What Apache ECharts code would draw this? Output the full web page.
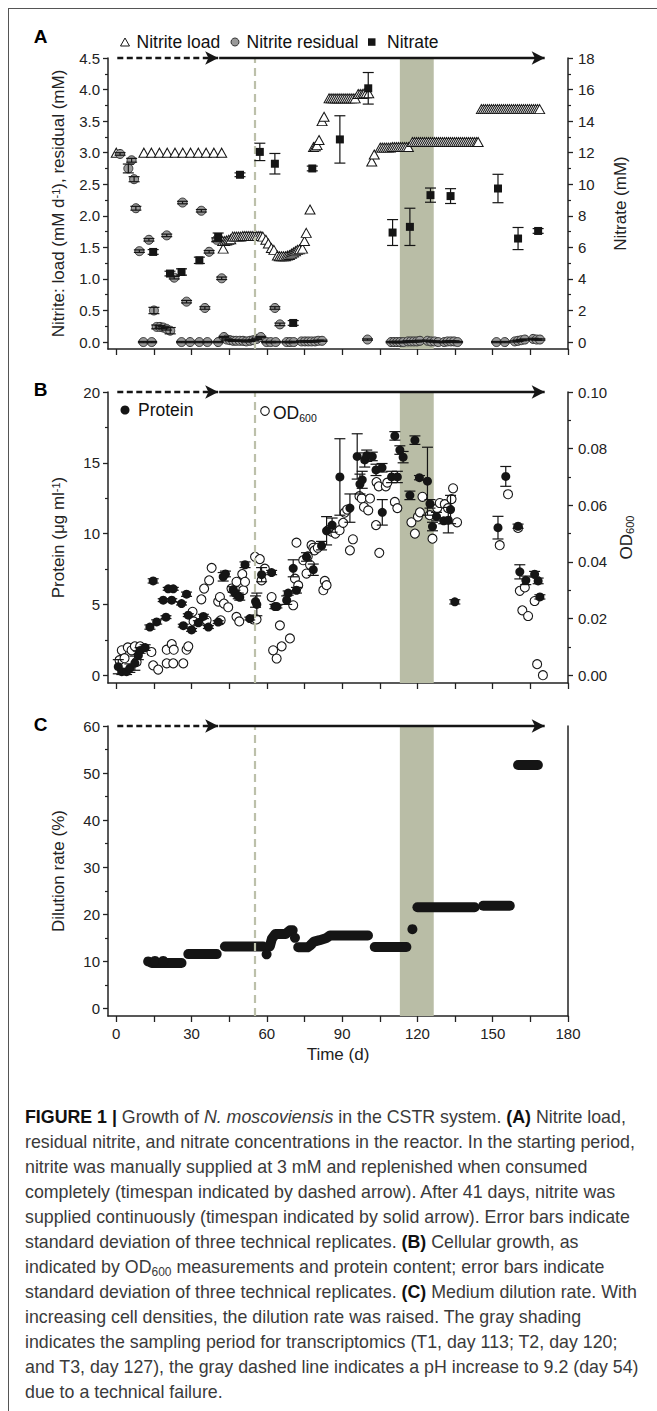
<!DOCTYPE html>
<html>
<head>
<meta charset="utf-8">
<script src="https://cdn.jsdelivr.net/npm/echarts@6/dist/echarts.min.js"></script>
<style>
html,body{margin:0;padding:0;background:#fff;}
#chart{position:absolute;left:0;top:0;width:657px;height:1411px;}
#frame{position:absolute;left:8px;top:8px;width:700px;height:1500px;border-left:1.5px solid #555;border-top:1.5px solid #555;pointer-events:none;}
#caption{position:absolute;left:25px;top:1105px;font-family:"Liberation Sans",Arial,Helvetica,sans-serif;font-size:17.8px;line-height:25px;color:#3a3a3a;white-space:nowrap;}
#caption b{color:#111;}
#caption sub{font-size:12px;line-height:0;vertical-align:-3px;}
</style>
</head>
<body>
<div id="chart"></div>
<div id="frame"></div>
<div id="caption"><b>FIGURE 1 |</b> Growth of <i>N. moscoviensis</i> in the CSTR system. <b>(A)</b> Nitrite load,<br>residual nitrite, and nitrate concentrations in the reactor. In the starting period,<br>nitrite was manually supplied at 3 mM and replenished when consumed<br>completely (timespan indicated by dashed arrow). After 41 days, nitrite was<br>supplied continuously (timespan indicated by solid arrow). Error bars indicate<br>standard deviation of three technical replicates. <b>(B)</b> Cellular growth, as<br>indicated by OD<sub>600</sub> measurements and protein content; error bars indicate<br>standard deviation of three technical replicates. <b>(C)</b> Medium dilution rate. With<br>increasing cell densities, the dilution rate was raised. The gray shading<br>indicates the sampling period for transcriptomics (T1, day 113; T2, day 120;<br>and T3, day 127), the gray dashed line indicates a pH increase to 9.2 (day 54)<br>due to a technical failure.</div>
<script>
// ================= DATA =================
const xTickDays = [0,15,30,45,60,75,90,105,120,135,150,165,180];
const xLabelDays = [0,30,60,90,120,150,180];
const nitriteTicks = [0,0.5,1,1.5,2,2.5,3,3.5,4,4.5];
const nitriteMinor = [0.25,0.75,1.25,1.75,2.25,2.75,3.25,3.75,4.25];
const nitrateTicks = [0,2,4,6,8,10,12,14,16,18];
const nitrateMinor = [1,3,5,7,9,11,13,15,17];
const proteinTicks = [0,5,10,15,20];
const proteinMinor = [2.5,7.5,12.5,17.5];
const odTicks = [0,0.02,0.04,0.06,0.08,0.1];
const odMinor = [0.01,0.03,0.05,0.07,0.09];
const dilutionTicks = [0,10,20,30,40,50,60];
const dilutionMinor = [5,15,25,35,45,55];

const pHIncreaseDay = 55;
const samplingPeriod = [113, 126.5];
const manualFeedSpan = [0.4, 40.6];
const continuousFeedSpan = [41, 170.7];

// Panel A: nitrite load (mM d-1) [day, value]
const nitriteLoad = [
 [0,3.0],[11,3.0],[14,3.0],[17.2,3.0],[20.3,3.0],[23.4,3.0],[26.5,3.0],[29.6,3.0],[32.7,3.0],[35.8,3.0],[38.9,3.0],[42,3.0],
 [42.6,1.48],
 [42.4,1.6],[43.2,1.6],[44.0,1.61],[44.8,1.62],[45.6,1.63],
 [46.4,1.67],[47.2,1.67],[48.0,1.67],[48.8,1.67],[49.6,1.67],[50.4,1.68],[51.2,1.68],[52.0,1.68],[52.8,1.68],[53.6,1.68],[54.4,1.68],[55.2,1.68],[56.0,1.68],[56.8,1.68],[57.6,1.68],[58.4,1.67],
 [59.6,1.62],[60.6,1.56],[61.8,1.49],[62.8,1.46],
 [64.2,1.37],[65.0,1.36],[65.8,1.36],[66.6,1.36],[67.4,1.36],[68.2,1.37],[69.0,1.38],
 [69.8,1.4],[70.6,1.42],[71.4,1.44],[72.2,1.46],[73.0,1.47],[74.2,1.48],
 [75.0,1.6],[75.7,1.73],[77.2,2.1],
 [78.6,3.09],[79.3,3.1],[80.0,3.12],[80.8,3.2],
 [82.0,3.5],[82.8,3.57],
 [84.8,3.86],[85.6,3.86],[86.4,3.86],[87.2,3.86],[88.0,3.86],[88.8,3.86],[89.6,3.86],[90.4,3.86],[91.2,3.86],[92.0,3.86],[92.8,3.86],[93.6,3.86],[94.4,3.86],[95.2,3.86],
 [96.4,3.93],[97.2,3.93],[98.0,3.93],[98.8,3.94],[99.6,3.94],[100.6,3.94],
 [101.8,2.86],[102.8,2.97],
 [105.2,3.08],[106.0,3.08],[106.8,3.08],[107.6,3.08],[108.4,3.08],[109.2,3.08],[110.0,3.09],[110.8,3.09],[111.6,3.09],[112.4,3.09],[113.2,3.09],[114.0,3.09],[114.8,3.09],[115.6,3.09],[116.4,3.09],
 [118.0,3.17],[118.8,3.17],[119.6,3.17],[120.4,3.17],[121.2,3.17],[122.0,3.17],[122.8,3.17],[123.6,3.17],[124.4,3.17],[125.2,3.17],[126.0,3.17],[126.8,3.17],[127.6,3.17],[128.4,3.17],[129.2,3.17],[130.0,3.17],[130.8,3.17],[131.6,3.17],[132.4,3.17],[133.2,3.17],[134.0,3.17],[134.8,3.17],[135.6,3.17],[136.4,3.17],[137.2,3.17],[138.0,3.17],[138.8,3.17],[139.6,3.17],[140.4,3.17],[141.2,3.17],[142.0,3.17],[142.8,3.17],[143.6,3.17],[144.2,3.17],
 [145.5,3.69],[146.3,3.69],[147.1,3.69],[147.9,3.69],[148.7,3.69],[149.5,3.69],[150.3,3.69],[151.1,3.69],[151.9,3.69],[152.7,3.69],[153.5,3.69],[154.3,3.69],[155.1,3.69],[155.9,3.69],[156.7,3.69],[157.5,3.69],[158.3,3.69],[159.1,3.69],[159.9,3.69],[160.7,3.69],[161.5,3.69],[162.3,3.69],[163.1,3.69],[163.9,3.69],[164.7,3.69],[165.5,3.69],[166.3,3.69],[167.1,3.69],[167.9,3.69],[168.7,3.69]
];

// Panel A: residual nitrite (mM) [day, value, sd]
const nitriteResidual = [
 [1.5,2.98,0.02],[4.8,2.75,0.07],[6.1,2.88,0.03],[7.1,2.58,0.04],[7.8,2.12,0.03],[9.2,1.44,0.02],
 [10.8,0,0.01],[13.0,1.62,0.02],[14.1,0,0.01],[15.0,0.5,0.05],[16.1,0.24,0.03],[17.4,0.24,0.02],[18.7,0.23,0.02],[20.0,0.21,0.02],[20.1,1.69,0.02],[21.5,0.18,0.05],
 [23.1,1.02,0.02],[26.0,0,0.01],[26.4,2.21,0.02],[28.0,0.64,0.02],[29.4,0,0.01],[33.1,0,0.01],[33.9,2.08,0.02],[35.3,0.54,0.02],[36.3,0,0.01],[37.0,1.43,0.02],
 [40.0,1.62,0.03],[40.6,0,0.01],[42.0,1.01,0.02],[42.9,0.08,0.01],[44.0,0.04,0.01],[45.3,0.03,0.01],[46.6,0.02,0.01],[47.8,0.02,0.01],[49.2,0.02,0.01],[50.5,0.02,0.01],[51.8,0.01,0.01],[53.3,0.02,0.01],[54.6,0.03,0.01],[56.0,0.05,0.01],[57.6,0.08,0.01],
 [59.9,0,0.01],[61.5,0,0.01],[63.2,0.54,0.02],[63.5,0,0.01],[65.2,0.28,0.02],[67.9,0,0.01],[69.3,0,0.01],[70.7,0,0.01],[73.8,0.01,0.01],[75.2,0.01,0.01],[76.5,0.01,0.01],[77.8,0.01,0.01],[79.2,0.01,0.01],[80.5,0.02,0.01],[82.0,0.02,0.01],
 [100.1,0.04,0.01],
 [109.5,0,0.01],[110.7,0,0.01],[111.9,0,0.01],[113.1,0,0.01],[114.4,0,0.01],[116.2,0.01,0.01],[117.4,0.01,0.01],[118.6,0.01,0.01],[119.8,0.01,0.01],[121.0,0.02,0.01],
 [124.0,0.02,0.01],[125.4,0.01,0.01],[126.8,0.01,0.01],[128.3,0,0.01],[130.7,0,0.01],[132.0,0.01,0.01],[133.3,0.01,0.01],[134.6,0.01,0.01],[136.0,0,0.01],
 [151.5,0,0.01],[154.8,0,0.01],[158.8,0.01,0.01],[160.1,0.02,0.01],[161.4,0.03,0.01],[162.8,0.04,0.01],[166.1,0.05,0.01],[167.5,0.04,0.01],[168.8,0.04,0.01]
];

// Panel A: nitrate (mM) [day, value, sd]
const nitrate = [
 [14.7,5.71,0.15],[21.4,4.34,0.15],[26.0,4.44,0.2],[33.1,5.18,0.2],[40.6,6.66,0.25],[49.3,10.6,0.12],
 [57.2,12.05,0.55],[63.2,11.3,0.65],[70.5,1.21,0.15],[78.1,11.0,0.15],[89.1,12.84,1.5],[100.4,16.08,1.0],
 [110.1,6.94,0.82],[117.0,7.3,1.18],[125.2,9.31,0.45],[133.2,9.25,0.47],[152.1,9.73,0.9],[160.1,6.56,0.7],[168.1,7.04,0.15]
];

// Panel B: protein (ug ml-1) [day, value, sd]
const protein = [
 [0.8,0.6,0.5],[2.2,0.25,0.2],[4.1,0.25,0.2],[5.4,0.5,0.3],[7.4,0.85,0.5],[8.8,1.4,0.3],[9.5,1.75,0.2],[11.5,1.95,0.2],
 [13.4,3.4,0.15],[14.7,6.66,0.15],[16.1,3.76,0.15],[18.7,5.3,0.1],[19.8,4.1,0.1],[20.7,6.1,0.1],[22.1,5.3,0.1],[22.7,6.1,0.1],
 [26.0,5.06,0.1],[26.7,3.5,0.1],[28.0,5.72,0.15],[28.7,4.24,0.1],[30.0,3.2,0.1],[32.7,3.7,0.15],[34.7,4.15,0.15],[36.7,3.4,0.1],[40.6,3.75,0.1],
 [42.6,6.95,0.3],[43.5,7.15,0.2],[46.6,6.05,0.2],[47.3,5.8,0.2],[48.6,5.6,0.2],[49.2,5.5,0.2],[51.3,7.8,0.2],[53.2,4.0,0.1],[55.5,5.2,0.4],[56.0,5.0,0.8],[57.9,7.1,0.5],
 [61.9,7.25,0.15],[63.2,4.85,0.15],[64.0,4.85,0.1],[67.9,5.3,0.3],[68.5,5.8,0.15],[70.5,7.55,0.6],[71.8,6.0,0.2],[75.8,8.35,0.3],[78.5,7.45,0.4],[81.8,9.15,0.3],[83.8,10.2,1.0],[86.0,10.6,0.5],
 [89.1,14.0,2.7],[93.1,11.8,1.0],[96.0,15.45,1.6],[97.1,13.5,0.7],[98.0,13.8,0.6],[99.0,15.2,0.5],[99.8,15.5,0.4],[102.0,15.45,0.3],[103.5,14.5,0.4],[105.9,14.65,0.3],[106.0,11.5,0.9],
 [109.7,14.0,0.4],[111.0,16.9,0.3],[112.0,14.0,0.4],[113.0,15.9,0.3],[114.3,15.4,0.4],[117.0,12.7,0.3],[119.0,16.6,0.3],[120.8,13.95,0.15],[124.0,13.7,2.4],[125.0,12.1,0.3],[126.0,10.5,0.3],[127.6,11.2,0.3],[130.5,10.9,0.2],[132.3,10.95,0.9],[133.2,11.7,1.0],[134.9,5.18,0.15],
 [152.1,10.42,0.8],[155.2,14.04,0.7],[160.1,10.52,0.15],[160.8,7.3,0.5],[163.2,6.7,0.3],[166.7,7.13,0.2],[168.1,6.66,0.2],[168.8,5.53,0.15]
];

// Panel B: OD600 [day, value]
const od600 = [
 [1.3,0.0053],[2.2,0.0088],[3.3,0.006],[4.6,0.0098],[6.1,0.0088],[7.4,0.0102],[8.1,0.0047],[9.5,0.0102],
 [14.0,0.0082],[14.7,0.0035],[16.7,0.002],[20.1,0.0042],[22.7,0.0042],[26.7,0.0042],
 [20.1,0.009],[22.1,0.011],[22.9,0.009],[28.0,0.009],[28.7,0.0102],
 [30.4,0.0224],[30.8,0.019],[33.9,0.0268],[35.0,0.0306],[36.0,0.0194],[37.0,0.0335],[38.0,0.0379],
 [40.6,0.026],[41.3,0.0276],[41.6,0.0194],[42.9,0.0253],[44.6,0.024],
 [45.9,0.0306],[47.9,0.033],[47.9,0.0206],[49.0,0.019],[50.2,0.0357],[50.6,0.030],[51.3,0.033],
 [54.6,0.0197],[55.9,0.0197],[55.3,0.0418],[57.2,0.041],[57.9,0.0335],[59.2,0.0376],
 [61.9,0.0276],[62.5,0.0088],[63.9,0.0059],[65.2,0.0176],[65.9,0.0102],[69.2,0.013],
 [70.5,0.0247],[71.2,0.0341],[71.8,0.0468],[72.5,0.0317],
 [74.5,0.0406],[75.8,0.0359],[76.3,0.042],[77.2,0.039],[77.8,0.0459],[78.5,0.045],[79.0,0.0441],[80.3,0.045],
 [82.5,0.030],[83.1,0.0333],[83.8,0.0318],[84.5,0.0512],[86.0,0.0506],[87.3,0.050],[89.0,0.0512],
 [90.4,0.0538],[91.0,0.0574],[92.0,0.0585],[93.1,0.0441],[94.3,0.048],
 [96.9,0.0632],[97.8,0.0624],[98.7,0.0594],[100.4,0.0582],[101.1,0.0624],
 [103.7,0.0682],[104.6,0.0667],[103.5,0.053],[104.8,0.0432],[107.4,0.0667],[108.0,0.068],
 [111.0,0.0612],[112.0,0.059],
 [117.6,0.054],[119.0,0.050],[120.2,0.056],[121.0,0.0575],[122.0,0.063],
 [124.9,0.0565],[126.0,0.0482],[127.9,0.059],[128.9,0.0608],[130.9,0.0604],[132.2,0.059],[133.6,0.0622],[134.2,0.066],[135.8,0.054],
 [152.8,0.0459],[156.1,0.0639],[160.1,0.052],[160.8,0.0298],[161.8,0.0229],[162.8,0.031],[164.1,0.0209],[166.7,0.0262],[167.7,0.0039],[170.0,0.0]
];

// Panel C: dilution rate (%) — runs of consecutive measurements [day, value]
const dilutionRuns = [
 [[14.1,9.65],[26.0,9.65]],
 [[28.7,11.55],[40.0,11.55]],
 [[43.3,13.15],[58.5,13.15]],
 [[61.2,13.2],[62.0,14.8],[63.4,15.8],[67.4,15.8],[69.2,16.6],[70.3,16.6]],
 [[72.5,13.0],[76.2,13.0],[77.3,13.4],[78.8,14.2],[81.0,14.5],[83.5,14.9],[85.2,15.5],[100.3,15.5]],
 [[103.0,13.05],[115.6,13.05]],
 [[120.0,21.5],[142.8,21.5]],
 [[146.2,21.8],[156.8,21.8]],
 [[160.1,51.7],[168.0,51.7]]
];
const dilutionSingles = [[12.7,10.0],[15.4,10.1],[18.7,10.1],[59.9,11.5],[71.2,15.0],[118.0,16.85]];

// ================= STYLE / LAYOUT =================
const FONT = '"Liberation Sans", Arial, Helvetica, sans-serif';
const INK = '#151515';
const AX = '#222';
const SHADE = '#b9bda6';
const PHCOL = '#bcc0aa';
const X_RANGE = [-3.3, 180];

const grids = [
  {left:108, top:58, width:460, height:291},
  {left:108, top:392, width:460, height:291},
  {left:108, top:726, width:460, height:290}
];

const labelStyle = {color:AX, fontSize:15, fontFamily:FONT};
const nameStyle = {color:AX, fontSize:17, fontFamily:FONT};

function xAxisFor(i, showLabels){
  return {type:'value', gridIndex:i, min:X_RANGE[0], max:X_RANGE[1],
    axisLine:{show:true, onZero:false, lineStyle:{color:AX, width:1.5}},
    axisTick:{show:true, customValues:xTickDays, length:6, lineStyle:{color:AX, width:1.3}},
    axisLabel:Object.assign({show:showLabels, customValues:xLabelDays, margin:10}, labelStyle),
    splitLine:{show:false},
    name: showLabels ? 'Time (d)' : '', nameLocation:'middle', nameGap:30,
    nameTextStyle: nameStyle
  };
}
function yAxisFor(grid, pos, range, ticks, fmt, name, gap, rich){
  return {type:'value', gridIndex:grid, position:pos, min:range[0], max:range[1],
    axisLine:{show:true, onZero:false, lineStyle:{color:AX, width:1.5}},
    axisTick:{show:true, customValues:ticks, length:5, lineStyle:{color:AX, width:1.3}},
    axisLabel:Object.assign({customValues:ticks, margin: pos==='left'?8:10, formatter:fmt}, labelStyle),
    splitLine:{show:false},
    name:name, nameLocation:'middle', nameGap:gap, nameRotate:90,
    nameTextStyle:Object.assign({rich:rich||{}}, nameStyle)
  };
}
function minorAxis(grid, pos, range, vals){
  return {type:'value', gridIndex:grid, position:pos, min:range[0], max:range[1],
    axisLine:{show:false, onZero:false},
    axisTick:{show:true, customValues:vals, length:3, lineStyle:{color:AX, width:1.2}},
    axisLabel:{show:false}, splitLine:{show:false}};
}

const supRich = {
  t:{fontSize:17, fontFamily:FONT, color:AX},
  s:{fontSize:11, fontFamily:FONT, color:AX, verticalAlign:'top', padding:[0,0,6,0]},
  b:{fontSize:11, fontFamily:FONT, color:AX, verticalAlign:'bottom', padding:[6,0,0,0]}
};
const legendRich = {
  a:{fontSize:17.5, fontFamily:FONT, color:'#111'},
  b:{fontSize:10.5, fontFamily:FONT, color:'#111', verticalAlign:'bottom', padding:[10,0,0,0]}
};

const rA = [-0.11, 4.5], rA2 = [-0.44, 18], rB = [-0.55, 20], rB2 = [-0.00275, 0.1], rC = [-1.6, 60];

const yAxes = [
  yAxisFor(0,'left', rA, nitriteTicks, v=>v.toFixed(1), '{t|Nitrite: load (mM d}{s|-1}{t|), residual (mM)}', 41, supRich), //0
  yAxisFor(0,'right', rA2, nitrateTicks, v=>String(v), 'Nitrate (mM)', 44), //1
  minorAxis(0,'left', rA, nitriteMinor), //2
  minorAxis(0,'right', rA2, nitrateMinor), //3
  yAxisFor(1,'left', rB, proteinTicks, v=>String(v), '{t|Protein (μg ml}{s|-1}{t|)}', 41, supRich), //4
  yAxisFor(1,'right', rB2, odTicks, v=>v.toFixed(2), '{t|OD}{b|600}', 44, supRich), //5
  minorAxis(1,'left', rB, proteinMinor), //6
  minorAxis(1,'right', rB2, odMinor), //7
  yAxisFor(2,'left', rC, dilutionTicks, v=>String(v), 'Dilution rate (%)', 41), //8
  minorAxis(2,'left', rC, dilutionMinor), //9
  {type:'value', gridIndex:2, position:'right', min:rC[0], max:rC[1], axisLine:{show:true,onZero:false,lineStyle:{color:AX,width:1.5}}, axisTick:{show:false}, axisLabel:{show:false}, splitLine:{show:false}} //10
];

function errRender(params, api){
  const x = api.value(0), lo = api.value(1), hi = api.value(2);
  const p1 = api.coord([x, lo]), p2 = api.coord([x, hi]);
  const hw = 5.5;
  const st = {stroke:INK, lineWidth:1.2};
  return {type:'group', children:[
    {type:'line', shape:{x1:p1[0],y1:p1[1],x2:p2[0],y2:p2[1]}, style:st},
    {type:'line', shape:{x1:p1[0]-hw,y1:p1[1],x2:p1[0]+hw,y2:p1[1]}, style:st},
    {type:'line', shape:{x1:p2[0]-hw,y1:p2[1],x2:p2[0]+hw,y2:p2[1]}, style:st}
  ]};
}
function errSeries(data, xi, yi, z){
  return {type:'custom', xAxisIndex:xi, yAxisIndex:yi, z:z, silent:true, clip:false,
    renderItem:errRender, encode:{x:0, y:[1,2]},
    data:data.map(d=>[d[0], d[1]-d[2], d[1]+d[2]])};
}
function yAxisMin(yi){ return yAxes[yi].min; }
function decorSeries(xi, yi, topVal){
  return {type:'scatter', xAxisIndex:xi, yAxisIndex:yi, data:[], z:1, silent:true,
    markArea:{silent:true, itemStyle:{color:SHADE, opacity:1}, data:[[{xAxis:samplingPeriod[0]},{xAxis:samplingPeriod[1]}]]},
    markLine:{silent:true, symbol:'none', label:{show:false}, animation:false,
      data:[
        [{xAxis:pHIncreaseDay, yAxis:yAxisMin(yi), lineStyle:{color:PHCOL, width:2.2, type:[8,5]}, symbol:'none'}, {xAxis:pHIncreaseDay, yAxis:topVal, symbol:'none'}],
        [{coord:[manualFeedSpan[0], topVal], lineStyle:{color:INK, width:2.3, type:[6,3.5]}, symbol:'none'}, {coord:[manualFeedSpan[1], topVal], symbol:'arrow', symbolSize:[10,13]}],
        [{coord:[continuousFeedSpan[0], topVal], lineStyle:{color:INK, width:2.3, type:'solid'}, symbol:'none'}, {coord:[continuousFeedSpan[1], topVal], symbol:'arrow', symbolSize:[10,13]}]
      ]}
  };
}

const series = [
  decorSeries(0, 0, 4.5),
  decorSeries(1, 4, 20),
  decorSeries(2, 8, 60),
  // Panel A
  {type:'scatter', name:'Nitrite load', xAxisIndex:0, yAxisIndex:0, z:3, symbol:'triangle', symbolSize:[10,9],
    itemStyle:{color:'#fff', borderColor:INK, borderWidth:1, opacity:1}, data:nitriteLoad},
  {type:'scatter', name:'Nitrite residual', xAxisIndex:0, yAxisIndex:0, z:4, symbol:'circle', symbolSize:9,
    itemStyle:{color:'#999', borderColor:'#333', borderWidth:1, opacity:1}, data:nitriteResidual.map(d=>[d[0],d[1]])},
  errSeries(nitriteResidual, 0, 0, 5),
  errSeries(nitrate, 0, 1, 5),
  {type:'scatter', name:'Nitrate', xAxisIndex:0, yAxisIndex:1, z:6, symbol:'rect', symbolSize:8,
    itemStyle:{color:INK, opacity:1}, data:nitrate.map(d=>[d[0],d[1]])},
  // Panel B
  {type:'scatter', name:'OD600', xAxisIndex:1, yAxisIndex:5, z:3, symbol:'circle', symbolSize:9,
    itemStyle:{color:'#fff', borderColor:INK, borderWidth:1.1, opacity:1}, data:od600},
  errSeries(protein, 1, 4, 4),
  {type:'scatter', name:'Protein', xAxisIndex:1, yAxisIndex:4, z:5, symbol:'circle', symbolSize:9,
    itemStyle:{color:INK, opacity:1}, data:protein.map(d=>[d[0],d[1]])},
  // Panel C
  ...dilutionRuns.map(run=>({type:'line', xAxisIndex:2, yAxisIndex:8, z:4, symbol:'none', silent:true,
    lineStyle:{color:INK, width:10, cap:'round', join:'round'}, data:run})),
  {type:'scatter', xAxisIndex:2, yAxisIndex:8, z:4, symbol:'circle', symbolSize:10,
    itemStyle:{color:INK, opacity:1}, data:dilutionSingles}
];

const txt = (x, y, text, size, extra) => ({type:'text', x:x, y:y, silent:true,
  style:Object.assign({text:text, fontSize:size, fontFamily:FONT, fill:'#111', align:'left', verticalAlign:'middle'}, extra||{})});

const graphic = [
  txt(40.5, 36, 'A', 19, {fontWeight:'bold', align:'center', fill:'#000'}),
  txt(40.5, 389, 'B', 19, {fontWeight:'bold', align:'center', fill:'#000'}),
  txt(40.5, 724.5, 'C', 19, {fontWeight:'bold', align:'center', fill:'#000'}),
  // legend A
  {type:'polygon', silent:true, shape:{points:[[120.5,46],[129.5,46],[125,38]]}, style:{fill:'#fff', stroke:INK, lineWidth:1}},
  txt(136.5, 42, 'Nitrite load', 17.5),
  {type:'circle', silent:true, shape:{cx:235, cy:42, r:4}, style:{fill:'#999', stroke:'#333', lineWidth:1}},
  txt(246.5, 42, 'Nitrite residual', 17.5),
  {type:'rect', silent:true, shape:{x:368, y:38.3, width:7.5, height:7.5}, style:{fill:INK}},
  txt(387, 42, 'Nitrate', 17.5),
  // legend B
  {type:'circle', silent:true, shape:{cx:125, cy:410, r:4.5}, style:{fill:INK}},
  txt(138, 410, 'Protein', 17.5),
  {type:'circle', silent:true, shape:{cx:265, cy:411, r:4.3}, style:{fill:'#fff', stroke:INK, lineWidth:1.1}},
  txt(273, 413, '{a|OD}{b|600}', 17.5, {rich:legendRich})
];

const chart = echarts.init(document.getElementById('chart'), null, {renderer:'svg'});
chart.setOption({
  animation:false,
  backgroundColor:'#fff',
  grid:grids,
  xAxis:[xAxisFor(0,false), xAxisFor(1,false), xAxisFor(2,true)],
  yAxis:yAxes,
  series:series,
  graphic:graphic
});
</script>
</body>
</html>
